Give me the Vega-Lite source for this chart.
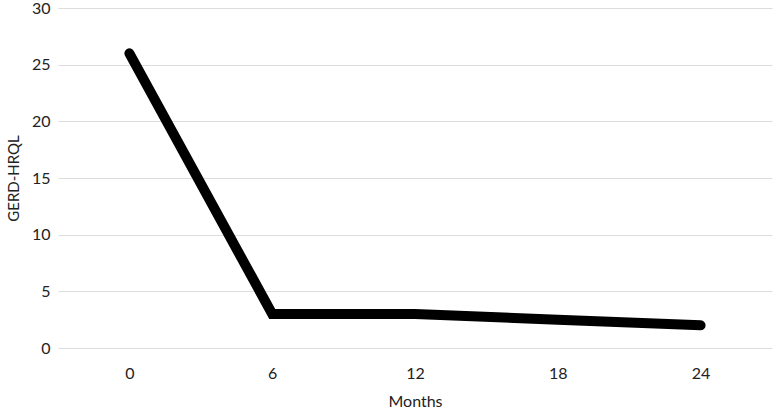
{
  "$schema": "https://vega.github.io/schema/vega-lite/v6.json",
  "width": 714,
  "height": 340,
  "autosize": {"type": "none"},
  "padding": {"left": 58, "top": 8, "right": 2, "bottom": 60},
  "background": "white",
  "config": {"view": {"stroke": null}, "font": "Lato"},
  "data": {"values": [
    {"month": "0", "score": 26},
    {"month": "6", "score": 3},
    {"month": "12", "score": 3},
    {"month": "18", "score": 2.5},
    {"month": "24", "score": 2}
  ]},
  "mark": {"type": "line", "color": "black", "strokeWidth": 10, "strokeCap": "round", "strokeJoin": "miter"},
  "encoding": {
    "x": {"field": "month", "type": "ordinal", "sort": null,
      "scale": {"type": "point", "padding": 0.5},
      "axis": {"title": "Months", "labelAngle": 0, "domain": false, "ticks": false, "grid": false,
        "labelFontSize": 16, "labelColor": "#222", "labelPadding": 17,
        "titleFontSize": 16, "titleFontWeight": "normal", "titleColor": "#222", "titlePadding": 12}},
    "y": {"field": "score", "type": "quantitative",
      "scale": {"domain": [0, 30]},
      "axis": {"title": "GERD-HRQL", "values": [0, 5, 10, 15, 20, 25, 30], "domain": false, "ticks": false,
        "gridColor": "#dddddd", "gridWidth": 1,
        "labelFontSize": 16, "labelColor": "#222", "labelPadding": 8,
        "titleFontSize": 15, "titleFontWeight": "normal", "titleColor": "#222", "titlePadding": 10}}
  }
}
